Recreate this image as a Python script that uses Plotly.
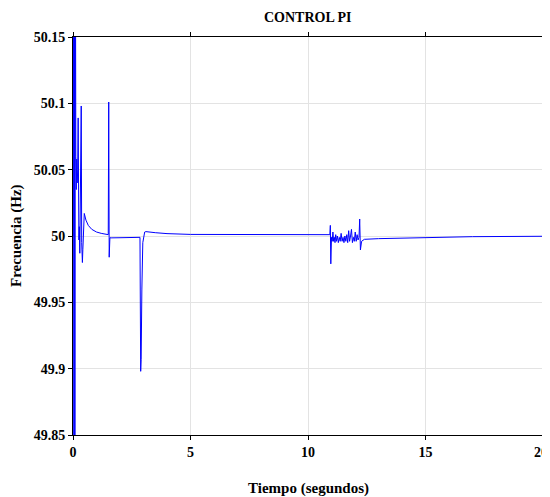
import plotly.graph_objects as go

# time (s) and frequency (Hz)
t_start = [0.0, 0.02, 0.04, 0.06, 0.08, 0.10, 0.12, 0.14, 0.16, 0.18, 0.20, 0.22, 0.25,
           0.27, 0.29, 0.31, 0.35, 0.37, 0.40, 0.42, 0.45, 0.48, 0.55, 0.65, 0.8, 1.0,
           1.2, 1.45, 1.50, 1.52, 1.54, 1.57, 1.62, 2.0, 2.5, 2.85, 2.88, 2.90, 2.93,
           2.97, 3.05, 3.1, 3.5, 4.0, 5.0, 7.0, 10.93]
f_start = [50.0, 50.40, 49.60, 50.30, 49.70, 50.25, 50.06, 50.035, 50.058, 50.040, 50.05,
           50.089, 49.997, 50.007, 49.987, 50.02, 50.098, 49.995, 49.980, 49.990, 50.005,
           50.017, 50.012, 50.008, 50.005, 50.003, 50.002, 50.0012, 50.001, 50.101,
           49.984, 49.9987, 49.9986, 49.9987, 49.9989, 49.999, 49.898, 49.907, 49.96,
           49.995, 50.003, 50.0033, 50.0025, 50.0018, 50.0012, 50.001, 50.001]

t_noise = [10.95, 10.97, 11.00, 11.03, 11.06, 11.09, 11.12, 11.15, 11.18, 11.21, 11.25,
           11.29, 11.33, 11.37, 11.41, 11.45, 11.49, 11.53, 11.57, 11.61, 11.65, 11.69,
           11.73, 11.77, 11.81, 11.85, 11.89, 11.93, 11.97, 12.01, 12.05, 12.09, 12.13,
           12.17, 12.20, 12.23, 12.28, 12.4, 13.0, 14.0, 15.0, 17.0, 20.0]
f_noise = [50.008, 49.979, 49.999, 49.996, 50.003, 49.996, 49.999, 49.995, 50.001, 49.996,
           50.000, 49.995, 49.999, 49.996, 50.002, 49.996, 49.999, 49.995, 50.000, 49.996,
           50.001, 49.995, 50.004, 49.996, 50.000, 50.005, 49.995, 49.999, 49.996, 50.003,
           49.996, 50.001, 49.997, 49.999, 50.0128, 49.9895, 49.996, 49.9975, 49.998,
           49.9985, 49.999, 49.9995, 49.9998]

x_ticks = [0, 5, 10, 15, 20]
x_labels = ["0", "5", "10", "15", "20"]
y_ticks = [49.85, 49.9, 49.95, 50.0, 50.05, 50.1, 50.15]
y_labels = ["49.85", "49.9", "49.95", "50", "50.05", "50.1", "50.15"]

t_all = t_start + t_noise
f_all = f_start + f_noise

font = dict(family="Liberation Serif, Times New Roman, serif", color="black")

fig = go.Figure()
fig.add_trace(go.Scatter(x=t_all, y=f_all, mode="lines",
                         line=dict(color="#0000ff", width=1), showlegend=False))

# last x label drawn as annotation so it stays inside the page edge
last_label = dict(text=f"<b>{x_labels[-1]}</b>", xref="x", yref="paper", x=x_ticks[-1], y=0,
                  xshift=-2, yshift=-17, xanchor="center", yanchor="middle",
                  showarrow=False, font=dict(size=14, **font))

# page body has an 8px margin, so the figure is sized/offset to compensate
fig.update_layout(
    width=542, height=489,
    margin=dict(l=65, r=7, t=29, b=62, autoexpand=False),
    paper_bgcolor="white", plot_bgcolor="white",
    font=font,
    annotations=[
        dict(text="<b>CONTROL PI</b>", xref="paper", yref="paper", x=0.5, y=1,
             yshift=20, xanchor="center", yanchor="middle", showarrow=False,
             font=dict(size=14, **font)),
        dict(text="<b>Tiempo (segundos)</b>", xref="paper", yref="paper", x=0.5, y=0,
             yshift=-53, xanchor="center", yanchor="middle", showarrow=False,
             font=dict(size=15, **font)),
        dict(text="<b>Frecuencia (Hz)</b>", xref="paper", yref="paper", x=0, y=0.5,
             xshift=-57, xanchor="center", yanchor="middle", showarrow=False,
             textangle=-90, font=dict(size=15, **font)),
        last_label,
    ],
)
fig.update_xaxes(
    range=[0, 20], tickvals=x_ticks,
    ticktext=[f"<b>{v}</b>" for v in x_labels[:-1]] + [""],
    tickfont=dict(size=14, **font), automargin=False,
    showgrid=True, gridcolor="#e3e3e3", gridwidth=1, zeroline=False,
    showline=True, linecolor="black", linewidth=1, mirror="ticks",
    ticks="outside", ticklen=4, tickcolor="black",
)
fig.update_yaxes(
    range=[49.85, 50.15], tickvals=y_ticks, ticktext=[f"<b>{v}</b>" for v in y_labels],
    tickfont=dict(size=14, **font), automargin=False,
    showgrid=True, gridcolor="#e3e3e3", gridwidth=1, zeroline=False,
    showline=True, linecolor="black", linewidth=1, mirror="ticks",
    ticks="outside", ticklen=4, tickcolor="black",
)

fig.write_html("out.html")
